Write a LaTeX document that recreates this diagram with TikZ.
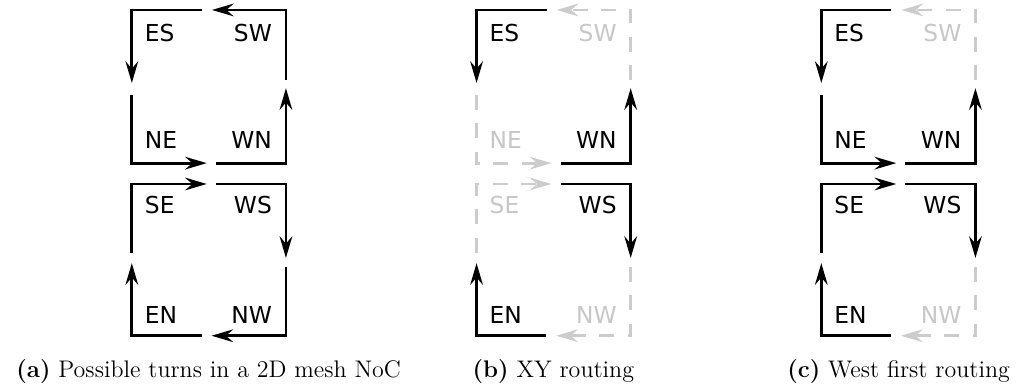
\documentclass[tikz,border=0pt]{standalone}
\usepackage{fontspec}
\usepackage{tikz}
\usetikzlibrary{arrows.meta}
\newfontfamily\turnfont{DejaVu Sans}

% the eight turns of one router, one style per turn:
% ES, SW, NE, WN (upper loop), SE, WS, EN, NW (lower loop)
\newcommand{\meshturns}[8]{%
  % upper loop
  \draw[#1] (1.48,0) -- (0,0) -- (0,-1.54);
  \draw[#2] (3.25,-1.48) -- (3.25,0) -- (1.69,0);
  \draw[#3] (0,-1.79) -- (0,-3.23) -- (1.58,-3.23);
  \draw[#4] (1.77,-3.23) -- (3.25,-3.23) -- (3.25,-1.65);
  % lower loop
  \draw[#5] (0,-5.12) -- (0,-3.67) -- (1.58,-3.67);
  \draw[#6] (1.77,-3.67) -- (3.25,-3.67) -- (3.25,-5.23);
  \draw[#7] (1.47,-6.87) -- (0,-6.87) -- (0,-5.34);
  \draw[#8] (3.25,-5.42) -- (3.25,-6.87) -- (1.68,-6.87);
  % turn names
  \node[lbl, #1 text, anchor=base west] (es) at (0.27,-0.67) {ES};
  \node[lbl, #2 text, anchor=base east] (sw) at (2.96,-0.67) {SW};
  \node[lbl, #3 text, anchor=base west] (ne) at (0.27,-2.92) {NE};
  \node[lbl, #4 text, anchor=base east] (wn) at (2.96,-2.92) {WN};
  \node[lbl, #5 text, anchor=base west] (se) at (0.27,-4.29) {SE};
  \node[lbl, #6 text, anchor=base east] (ws) at (2.96,-4.29) {WS};
  \node[lbl, #7 text, anchor=base west] (en) at (0.27,-6.61) {EN};
  \node[lbl, #8 text, anchor=base east] (nw) at (2.96,-6.61) {NW};
}

\begin{document}
\begin{tikzpicture}[
  legal/.style={line width=1.7pt, black,
                -{Stealth[length=13pt, width=7.6pt, inset=4.4pt]}},
  banned/.style={legal, black!20, dash pattern=on 9pt off 8pt},
  legal text/.style={text=black},
  banned text/.style={text=black!22},
  lbl/.style={inner sep=0pt, font=\turnfont\fontsize{14}{17}\selectfont},
  subcap/.style={inner sep=0pt, anchor=base, font=\Large}
]
  \useasboundingbox (0,0) rectangle (21.468,-8.224);

  % (a) all turns
  \begin{scope}[shift={(2.78,-0.21)}, name prefix=a-]
    \meshturns{legal}{legal}{legal}{legal}{legal}{legal}{legal}{legal}
  \end{scope}
  % (b) XY
  \begin{scope}[shift={(10.05,-0.21)}, name prefix=b-]
    \meshturns{legal}{banned}{banned}{legal}{banned}{legal}{legal}{banned}
  \end{scope}
  % (c) west first
  \begin{scope}[shift={(17.32,-0.21)}, name prefix=c-]
    \meshturns{legal}{banned}{legal}{legal}{legal}{legal}{legal}{banned}
  \end{scope}

  \node[subcap] (capa) at (4.40,-7.97) {\textbf{(a)} Possible turns in a 2D mesh NoC};
  \node[subcap] (capb) at (11.67,-7.97) {\textbf{(b)} XY routing};
  \node[subcap] (capc) at (18.95,-7.97) {\textbf{(c)} West first routing};
\end{tikzpicture}
\end{document}
